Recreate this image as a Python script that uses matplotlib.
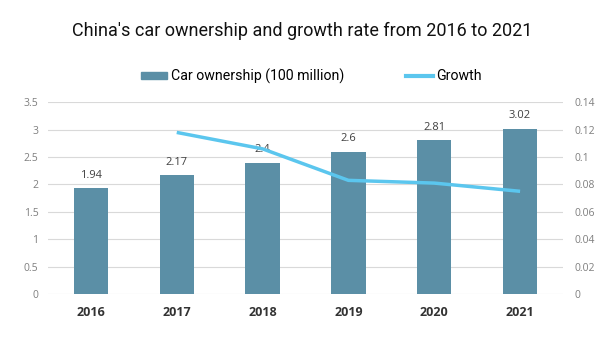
import matplotlib
matplotlib.use("Agg")
import matplotlib.pyplot as plt
from matplotlib.lines import Line2D
from matplotlib.patches import Patch

years = ["2016", "2017", "2018", "2019", "2020", "2021"]
ownership = [1.94, 2.17, 2.4, 2.6, 2.81, 3.02]
growth = [None, 0.118, 0.106, 0.083, 0.081, 0.075]
left_ticks = [0, 0.5, 1, 1.5, 2, 2.5, 3, 3.5]
left_labels = ["0", "0.5", "1", "1.5", "2", "2.5", "3", "3.5"]
right_ticks = [0, 0.02, 0.04, 0.06, 0.08, 0.1, 0.12, 0.14]
right_labels = ["0", "0.02", "0.04", "0.06", "0.08", "0.1", "0.12", "0.14"]

bar_color = "#5B8FA6"
line_color = "#5BC6EE"
tick_color = "#7F7F7F"

fig = plt.figure(figsize=(6.05, 3.64), dpi=100)
ax = fig.add_axes([48/605, 1-294/364, (563-48)/605, (294-102.3)/364])
x = list(range(len(years)))
ax.bar(x, ownership, width=0.40, color=bar_color, zorder=2)
ax.set_xlim(-0.5, len(years)-0.5)
ax.set_ylim(0, 3.5)
ax.set_yticks(left_ticks)
ax.set_yticklabels(left_labels, fontsize=7.5, color=tick_color, family="Open Sans")
ax.set_xticks(x)
ax.set_xticklabels(years, fontsize=9, fontweight="bold", color="#333333", family="Open Sans")
ax.tick_params(axis="both", length=0)
ax.tick_params(axis="x", pad=9)
ax.tick_params(axis="y", pad=7)
ax.grid(axis="y", color="#D9D9D9", linewidth=0.8, zorder=0)
ax.set_axisbelow(True)
for s in ax.spines.values():
    s.set_visible(False)
for xi, v in zip(x, ownership):
    ax.text(xi, v + 0.13, f"{v:g}", ha="center", va="bottom", fontsize=8, color="#404040", family="Open Sans")

ax2 = ax.twinx()
gx = [xi for xi, g in zip(x, growth) if g is not None]
gy = [g for g in growth if g is not None]
ax2.plot(gx, gy, color=line_color, linewidth=2.5, zorder=3, solid_capstyle="butt")
ax2.set_ylim(0, 0.14)
ax2.set_yticks(right_ticks)
ax2.set_yticklabels(right_labels, fontsize=7.5, color=tick_color, family="Open Sans")
ax2.tick_params(axis="y", length=0, pad=8)
for s in ax2.spines.values():
    s.set_visible(False)

fig.text(0.5, 1-30.5/364, "China's car ownership and growth rate from 2016 to 2021",
         ha="center", va="center", fontsize=13, family="Roboto", color="#111111")

handles = [Patch(color=bar_color), Line2D([0], [0], color=line_color, linewidth=3)]
labels = ["Car ownership (100 million)", "Growth"]
fig.legend(handles, labels, loc="center left", bbox_to_anchor=(141/605, 1-76/364), ncol=2, frameon=False,
           prop={"family": "Roboto", "size": 10.2}, handlelength=1.87, handletextpad=0.22,
           columnspacing=4.4, handleheight=0.36, borderpad=0, borderaxespad=0)

fig.savefig("out.png", dpi=100)
